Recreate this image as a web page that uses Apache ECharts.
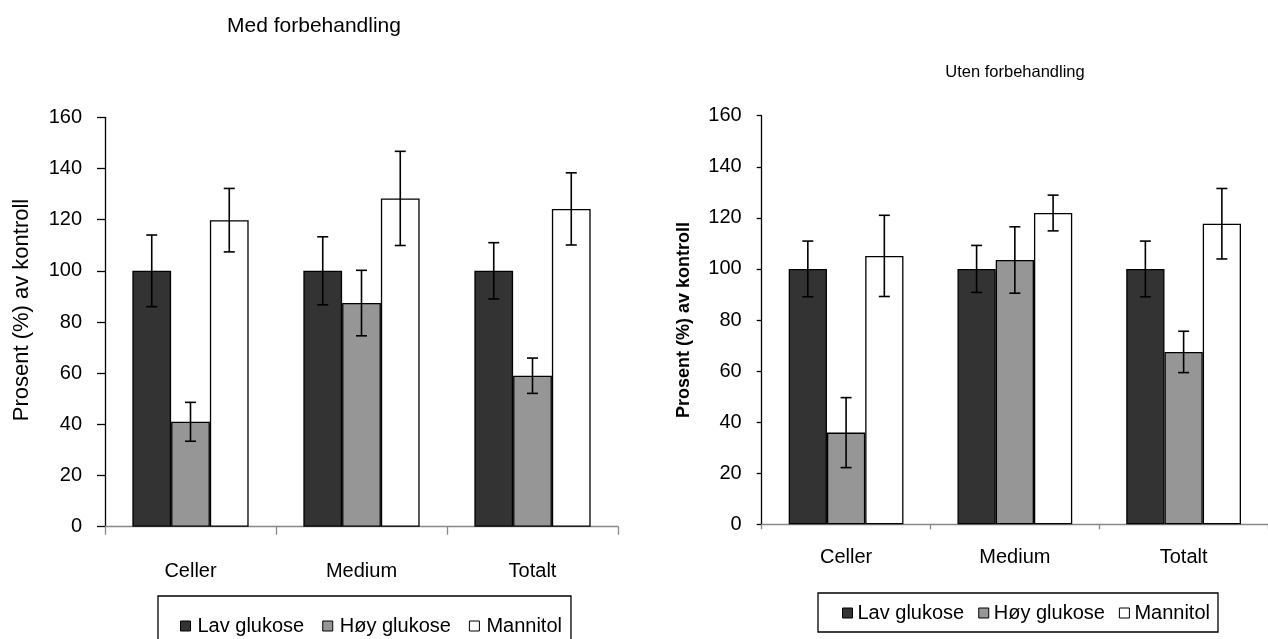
<!DOCTYPE html>
<html>
<head>
<meta charset="utf-8">
<script src="https://cdn.jsdelivr.net/npm/echarts@6/dist/echarts.min.js"></script>
<style>
html,body{margin:0;padding:0;background:#fff;}
#chart{width:1268px;height:639px;}
</style>
</head>
<body>
<div id="chart"></div>
<script>
// ---- data ----
const categories = ['Celler', 'Medium', 'Totalt'];
const seriesNames = ['Lav glukose', 'Høy glukose', 'Mannitol'];
const yTicks = [0, 20, 40, 60, 80, 100, 120, 140, 160];

// Med forbehandling
const medLav = [100, 100, 100];
const medLavErr = [14, 13.3, 11];
const medHoy = [41, 87.4, 59];
const medHoyErr = [7.6, 12.8, 6.9];
const medMan = [119.8, 128.3, 124.2];
const medManErr = [12.4, 18.4, 14.1];

// Uten forbehandling
const utenLav = [100, 100, 100];
const utenLavErr = [10.9, 9.2, 10.9];
const utenHoy = [35.9, 103.5, 67.5];
const utenHoyErr = [13.7, 13, 8.1];
const utenMan = [105.1, 121.9, 117.7];
const utenManErr = [15.9, 7, 13.8];

const titles = ['Med forbehandling', 'Uten forbehandling'];
const yAxisName = 'Prosent (%) av kontroll';

// ---- styling ----
const FONT = '"Liberation Sans", Arial, sans-serif';
const colors = ['#333333', '#969696', '#ffffff'];
const GAP = 0.32;

const chart = echarts.init(document.getElementById('chart'), null, {renderer: 'canvas'});

function errSeries(vals, errs, si, axisIdx) {
  return {
    type: 'custom',
    xAxisIndex: axisIdx,
    yAxisIndex: axisIdx,
    z: 5,
    silent: true,
    data: vals.map((v, i) => [i, v, errs[i]]),
    renderItem: function (params, api) {
      const cat = api.value(0), v = api.value(1), e = api.value(2);
      const catW = api.size([1, 0])[0];
      const bw = catW * (1 - GAP) / 3;
      const x = api.coord([cat, v])[0] + (si - 1) * bw;
      const yt = api.coord([cat, v + e])[1];
      const yb = api.coord([cat, v - e])[1];
      const cw = 5.5;
      const st = {stroke: '#000', lineWidth: 1.6};
      return {
        type: 'group',
        children: [
          {type: 'line', shape: {x1: x, y1: yt, x2: x, y2: yb}, style: st},
          {type: 'line', shape: {x1: x - cw, y1: yt, x2: x + cw, y2: yt}, style: st},
          {type: 'line', shape: {x1: x - cw, y1: yb, x2: x + cw, y2: yb}, style: st}
        ]
      };
    }
  };
}

function barSeries(name, vals, si, axisIdx) {
  return {
    name: name,
    type: 'bar',
    xAxisIndex: axisIdx,
    yAxisIndex: axisIdx,
    data: vals,
    barGap: '0%',
    barCategoryGap: (GAP * 100) + '%',
    itemStyle: {color: colors[si], borderColor: '#000', borderWidth: 1.3},
    emphasis: {disabled: true}
  };
}

function xAxis(gi, margin, tickLen) {
  return {
    type: 'category',
    gridIndex: gi,
    data: categories,
    axisLine: {lineStyle: {color: '#888888', width: 1.3}},
    axisTick: {show: true, length: tickLen, lineStyle: {color: '#888888', width: 1.3}},
    axisLabel: {color: '#000', fontSize: 20, fontFamily: FONT, margin: margin}
  };
}

function yAxis(gi, margin, tickLen, nameGap, nameStyle) {
  return {
    type: 'value',
    gridIndex: gi,
    min: yTicks[0],
    max: yTicks[yTicks.length - 1],
    interval: yTicks[1] - yTicks[0],
    name: yAxisName,
    nameLocation: 'middle',
    nameGap: nameGap,
    nameRotate: 90,
    nameTextStyle: nameStyle,
    splitLine: {show: false},
    axisLine: {show: true, lineStyle: {color: '#000', width: 1.3}},
    axisTick: {show: true, length: tickLen, lineStyle: {color: '#000', width: 1.3}},
    axisLabel: {color: '#000', fontSize: 20, fontFamily: FONT, margin: margin}
  };
}

const option = {
  backgroundColor: '#fff',
  animation: false,
  title: [
    {text: titles[0], left: 314, top: 16, textAlign: 'center', padding: 0,
     textStyle: {fontSize: 21, fontWeight: 'normal', color: '#000', fontFamily: FONT}},
    {text: titles[1], left: 1015, top: 64, textAlign: 'center', padding: 0,
     textStyle: {fontSize: 16.5, fontWeight: 'normal', color: '#000', fontFamily: FONT}}
  ],
  legend: [
    {data: seriesNames, left: 158, top: 596, orient: 'horizontal',
     padding: [20, 9, 22, 22], itemGap: 18, itemWidth: 10, itemHeight: 10,
     borderColor: '#000', borderWidth: 1.3, icon: 'rect',
     itemStyle: {borderWidth: 1, borderColor: '#000'},
     selectedMode: false,
     textStyle: {fontSize: 20, color: '#000', fontFamily: FONT, padding: [0, 0, 0, 2]}},
    {data: seriesNames, left: 818, top: 593, orient: 'horizontal',
     padding: [10, 8, 9, 24], itemGap: 14, itemWidth: 10, itemHeight: 10,
     borderColor: '#000', borderWidth: 1.3, icon: 'rect',
     itemStyle: {borderWidth: 1, borderColor: '#000'},
     selectedMode: false,
     textStyle: {fontSize: 20, color: '#000', fontFamily: FONT, padding: [0, 0, 0, 0]}}
  ],
  grid: [
    {left: 105, top: 117.3, width: 513, height: 409.4, containLabel: false},
    {left: 761.7, top: 115.7, width: 509, height: 408.6, containLabel: false}
  ],
  xAxis: [xAxis(0, 35, 8), xAxis(1, 23, 5)],
  yAxis: [
    yAxis(0, 23, 8, 72, {fontSize: 22, color: '#000', fontFamily: FONT, fontWeight: 'normal', padding: [0, 0, 0, 24]}),
    yAxis(1, 20, 5, 69, {fontSize: 18, color: '#000', fontFamily: FONT, fontWeight: 'bold'})
  ],
  series: [
    barSeries(seriesNames[0], medLav, 0, 0),
    barSeries(seriesNames[1], medHoy, 1, 0),
    barSeries(seriesNames[2], medMan, 2, 0),
    errSeries(medLav, medLavErr, 0, 0),
    errSeries(medHoy, medHoyErr, 1, 0),
    errSeries(medMan, medManErr, 2, 0),
    barSeries(seriesNames[0], utenLav, 0, 1),
    barSeries(seriesNames[1], utenHoy, 1, 1),
    barSeries(seriesNames[2], utenMan, 2, 1),
    errSeries(utenLav, utenLavErr, 0, 1),
    errSeries(utenHoy, utenHoyErr, 1, 1),
    errSeries(utenMan, utenManErr, 2, 1)
  ]
};

chart.setOption(option);
</script>
</body>
</html>
